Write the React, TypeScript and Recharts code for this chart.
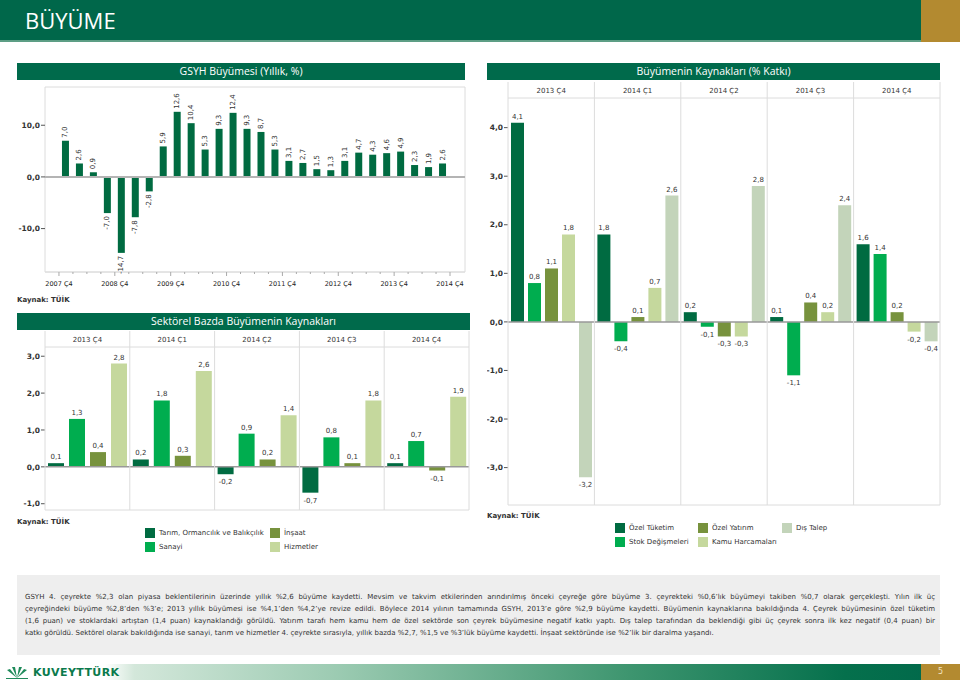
import React from "react"
import {
  Bar,
  BarChart,
  CartesianGrid,
  LabelList,
  ReferenceLine,
  XAxis,
  YAxis,
} from "recharts"

const FONT = "'DejaVu Sans', Verdana, sans-serif"
const TITLE_FONT = "'Open Sans', 'DejaVu Sans', sans-serif"

const DARK = "#006b41"
const BRIGHT = "#00ad4f"
const OLIVE = "#77923d"
const LIGHT = "#c5d89d"
const PALE = "#c3d4ba"
const BANNER = "#006a4b"
const GRID = "#dcdcdc"

// GSYH yıllık büyüme (%)
const gdpQuarters = [
  "2007 Ç4",
  "2008 Ç1", "2008 Ç2", "2008 Ç3", "2008 Ç4",
  "2009 Ç1", "2009 Ç2", "2009 Ç3", "2009 Ç4",
  "2010 Ç1", "2010 Ç2", "2010 Ç3", "2010 Ç4",
  "2011 Ç1", "2011 Ç2", "2011 Ç3", "2011 Ç4",
  "2012 Ç1", "2012 Ç2", "2012 Ç3", "2012 Ç4",
  "2013 Ç1", "2013 Ç2", "2013 Ç3", "2013 Ç4",
  "2014 Ç1", "2014 Ç2", "2014 Ç3", "2014 Ç4",
]
const gdpGrowth = [
  null,
  7.0, 2.6, 0.9, -7.0,
  -14.7, -7.8, -2.8, 5.9,
  12.6, 10.4, 5.3, 9.3,
  12.4, 9.3, 8.7, 5.3,
  3.1, 2.7, 1.5, 1.3,
  3.1, 4.7, 4.3, 4.6,
  4.9, 2.3, 1.9, 2.6,
]

// panel başlıkları
const facetQuarters = ["2013 Ç4", "2014 Ç1", "2014 Ç2", "2014 Ç3", "2014 Ç4"]

// sektörel katkılar
const tarim = [0.1, 0.2, -0.2, -0.7, 0.1]
const sanayi = [1.3, 1.8, 0.9, 0.8, 0.7]
const insaat = [0.4, 0.3, 0.2, 0.1, -0.1]
const hizmetler = [2.8, 2.6, 1.4, 1.8, 1.9]

// büyümenin kaynakları (% katkı)
const ozelTuketim = [4.1, 1.8, 0.2, 0.1, 1.6]
const stokDegisimi = [0.8, -0.4, -0.1, -1.1, 1.4]
const ozelYatirim = [1.1, 0.1, -0.3, 0.4, 0.2]
const kamuHarcamasi = [1.8, 0.7, -0.3, 0.2, -0.2]
const disTalep = [-3.2, 2.6, 2.8, 2.4, -0.4]

const gdpTicks = [-10, 0, 10]
const sectorTicks = [-1, 0, 1, 2, 3]
const sourceTicks = [-3, -2, -1, 0, 1, 2, 3, 4]

const gdpData = gdpQuarters.map((q, i) => ({ q, v: gdpGrowth[i] }))
const sectorData = facetQuarters.map((q, i) => ({
  q,
  tarim: tarim[i],
  sanayi: sanayi[i],
  insaat: insaat[i],
  hizmetler: hizmetler[i],
}))
const sourceData = facetQuarters.map((q, i) => ({
  q,
  ozelTuketim: ozelTuketim[i],
  stok: stokDegisimi[i],
  ozelYatirim: ozelYatirim[i],
  kamu: kamuHarcamasi[i],
  disTalep: disTalep[i],
}))

const footerLines = [
  "GSYH 4. çeyrekte %2,3 olan piyasa beklentilerinin üzerinde yıllık %2,6 büyüme kaydetti. Mevsim ve takvim etkilerinden arındırılmış önceki çeyreğe göre büyüme 3. çeyrekteki %0,6’lık büyümeyi takiben %0,7 olarak gerçekleşti. Yılın ilk üç",
  "çeyreğindeki büyüme %2,8’den %3’e; 2013 yıllık büyümesi ise %4,1’den %4,2’ye revize edildi. Böylece 2014 yılının tamamında GSYH, 2013’e göre %2,9 büyüme kaydetti. Büyümenin kaynaklarına bakıldığında 4. Çeyrek büyümesinin özel tüketim",
  "(1,6 puan) ve stoklardaki artıştan (1,4 puan) kaynaklandığı görüldü. Yatırım tarafı hem kamu hem de özel sektörde son çeyrek büyümesine negatif katkı yaptı. Dış talep tarafından da beklendiği gibi üç çeyrek sonra ilk kez negatif (0,4 puan) bir",
  "katkı görüldü. Sektörel olarak bakıldığında ise sanayi, tarım ve hizmetler 4. çeyrekte sırasıyla, yıllık bazda %2,7, %1,5 ve %3’lük büyüme kaydetti. İnşaat sektöründe ise %2’lik bir daralma yaşandı.",
]

const fmt = (v: number) => Number(v).toFixed(1).replace(".", ",")

const boxH = (p: any) =>
  p && p.offset ? [p.offset.top, p.offset.top + p.offset.height] : []
const boxV = (p: any) =>
  p && p.offset ? [p.offset.left, p.offset.left + p.offset.width] : []
const bottomH = (p: any) =>
  p && p.offset ? [p.offset.top + p.offset.height] : []

// chart 1 geometry
const CH1_W = 453
const CH1_YW = 28
const CH1_RIGHT = 5
const CH1_PAD = 15
const ch1Band = (CH1_W - CH1_YW - CH1_RIGHT - CH1_PAD) / gdpQuarters.length

function QuarterTick(props: any) {
  const { x, y, payload } = props
  const bx = Number(x) + ch1Band / 2
  const major = String(payload.value).endsWith("Ç4")
  return (
    <g>
      <line x1={bx} x2={bx} y1={y} y2={y + (major ? 4 : 2)} stroke="#aaa" />
      {major && (
        <text x={bx} y={y + 14} textAnchor="middle" fontSize={6.5} fill="#222" fontFamily={FONT}>
          {payload.value}
        </text>
      )}
    </g>
  )
}

function VLabel(props: any) {
  const { x, y, width, height, value } = props
  if (value === null || value === undefined) return null
  const cx = Number(x) + Number(width) / 2
  const top = Math.min(Number(y), Number(y) + Number(height))
  const bottom = Math.max(Number(y), Number(y) + Number(height))
  const pos = value >= 0
  const ay = pos ? top - 3 : bottom + 3
  return (
    <text
      x={cx}
      y={ay}
      transform={`rotate(-90 ${cx} ${ay})`}
      textAnchor={pos ? "start" : "end"}
      dominantBaseline="central"
      fontSize={7}
      fill="#333"
      fontFamily={FONT}
    >
      {fmt(value)}
    </text>
  )
}

function HLabel(props: any) {
  const { x, y, width, height, value } = props
  if (value === null || value === undefined) return null
  const cx = Number(x) + Number(width) / 2
  const top = Math.min(Number(y), Number(y) + Number(height))
  const bottom = Math.max(Number(y), Number(y) + Number(height))
  const pos = value >= 0
  return (
    <text
      x={cx}
      y={pos ? top - 4 : bottom + 10}
      textAnchor="middle"
      fontSize={7}
      fill="#333"
      fontFamily={FONT}
    >
      {fmt(value)}
    </text>
  )
}

function facetTick(bw: number, headerH: number, plotH: number, count: number) {
  return (props: any) => {
    const { x, y, payload, index } = props
    return (
      <g>
        <line x1={x - bw / 2} x2={x - bw / 2} y1={y - headerH} y2={y + plotH} stroke={GRID} />
        {index === count - 1 && (
          <line x1={x + bw / 2} x2={x + bw / 2} y1={y - headerH} y2={y + plotH} stroke={GRID} />
        )}
        <text x={x} y={y - 5} textAnchor="middle" fontSize={7} fill="#333" fontFamily={FONT}>
          {payload.value}
        </text>
      </g>
    )
  }
}

const yTick = { fontSize: 7.5, fill: "#333", fontWeight: 700, fontFamily: FONT }

function Banner({ x, y, w, text }: { x: number; y: number; w: number; text: string }) {
  return (
    <div
      style={{
        position: "absolute",
        left: x,
        top: y,
        width: w,
        height: 17,
        background: BANNER,
        color: "#fff",
        fontFamily: TITLE_FONT,
        fontSize: 10.5,
        lineHeight: "17px",
        textAlign: "center",
      }}
    >
      {text}
    </div>
  )
}

function Source({ x, y }: { x: number; y: number }) {
  return (
    <div
      style={{
        position: "absolute",
        left: x,
        top: y,
        fontSize: 7,
        fontWeight: 700,
        color: "#333",
        lineHeight: "10px",
        whiteSpace: "nowrap",
      }}
    >
      Kaynak: TÜİK
    </div>
  )
}

function Swatch({ x, y, color, label }: { x: number; y: number; color: string; label: string }) {
  return (
    <div
      style={{
        position: "absolute",
        left: x,
        top: y,
        display: "flex",
        alignItems: "center",
        fontSize: 7,
        color: "#333",
        whiteSpace: "nowrap",
        height: 10,
      }}
    >
      <span style={{ display: "inline-block", width: 10, height: 10, background: color, marginRight: 4 }} />
      {label}
    </div>
  )
}

function GdpChart() {
  return (
    <BarChart
      width={CH1_W}
      height={210}
      data={gdpData}
      margin={{ top: 5, right: CH1_RIGHT, left: 0, bottom: 0 }}
      barSize={7}
    >
      <CartesianGrid stroke={GRID} horizontalCoordinatesGenerator={boxH} verticalCoordinatesGenerator={boxV} />
      <XAxis
        dataKey="q"
        height={20}
        interval={0}
        tickLine={false}
        tickSize={0}
        tickMargin={0}
        axisLine={{ stroke: GRID }}
        padding={{ left: 0, right: CH1_PAD }}
        tick={(p: any) => <QuarterTick {...p} />}
      />
      <YAxis
        width={CH1_YW}
        domain={[-18.4, 17.4]}
        ticks={gdpTicks}
        allowDataOverflow
        tickFormatter={fmt}
        tickSize={4}
        tickMargin={1}
        axisLine={false}
        tickLine={{ stroke: "#555" }}
        tick={yTick}
      />
      <ReferenceLine y={0} stroke="#b4b4b4" strokeWidth={2} />
      <Bar dataKey="v" fill={DARK} isAnimationActive={false}>
        <LabelList dataKey="v" content={(p: any) => <VLabel {...p} />} />
      </Bar>
    </BarChart>
  )
}

// chart 2 geometry
const CH2_W = 453
const CH2_YW = 28
const CH2_RIGHT = 1
const CH2_HEAD = 16
const CH2_H = 182
const CH2_BOTTOM = 3
const ch2Band = (CH2_W - CH2_YW - CH2_RIGHT) / facetQuarters.length

function SectorChart() {
  return (
    <BarChart
      width={CH2_W}
      height={CH2_H}
      data={sectorData}
      margin={{ top: 0, right: CH2_RIGHT, left: 0, bottom: CH2_BOTTOM }}
      barSize={16}
      barGap={5}
    >
      <CartesianGrid stroke={GRID} vertical={false} horizontalCoordinatesGenerator={bottomH} />
      <XAxis
        dataKey="q"
        orientation="top"
        height={CH2_HEAD}
        interval={0}
        tickLine={false}
        tickSize={0}
        tickMargin={0}
        axisLine={{ stroke: GRID }}
        tick={facetTick(ch2Band, CH2_HEAD, CH2_H - CH2_HEAD - CH2_BOTTOM, facetQuarters.length)}
      />
      <YAxis
        width={CH2_YW}
        domain={[-1.17, 3.25]}
        ticks={sectorTicks}
        allowDataOverflow
        tickFormatter={fmt}
        tickSize={4}
        tickMargin={1}
        axisLine={false}
        tickLine={{ stroke: "#555" }}
        tick={yTick}
      />
      <ReferenceLine y={0} stroke="#999" strokeWidth={1.5} />
      <Bar dataKey="tarim" fill={DARK} isAnimationActive={false}>
        <LabelList dataKey="tarim" content={(p: any) => <HLabel {...p} />} />
      </Bar>
      <Bar dataKey="sanayi" fill={BRIGHT} isAnimationActive={false}>
        <LabelList dataKey="sanayi" content={(p: any) => <HLabel {...p} />} />
      </Bar>
      <Bar dataKey="insaat" fill={OLIVE} isAnimationActive={false}>
        <LabelList dataKey="insaat" content={(p: any) => <HLabel {...p} />} />
      </Bar>
      <Bar dataKey="hizmetler" fill={LIGHT} isAnimationActive={false}>
        <LabelList dataKey="hizmetler" content={(p: any) => <HLabel {...p} />} />
      </Bar>
    </BarChart>
  )
}

// chart 3 geometry
const CH3_W = 455
const CH3_YW = 21
const CH3_RIGHT = 2
const CH3_HEAD = 16
const CH3_H = 426
const CH3_BOTTOM = 3
const ch3Band = (CH3_W - CH3_YW - CH3_RIGHT) / facetQuarters.length

function SourceChart() {
  return (
    <BarChart
      width={CH3_W}
      height={CH3_H}
      data={sourceData}
      margin={{ top: 0, right: CH3_RIGHT, left: 0, bottom: CH3_BOTTOM }}
      barSize={13}
      barGap={4}
    >
      <CartesianGrid stroke={GRID} vertical={false} horizontalCoordinatesGenerator={bottomH} />
      <XAxis
        dataKey="q"
        orientation="top"
        height={CH3_HEAD}
        interval={0}
        tickLine={false}
        tickSize={0}
        tickMargin={0}
        axisLine={{ stroke: GRID }}
        tick={facetTick(ch3Band, CH3_HEAD, CH3_H - CH3_HEAD - CH3_BOTTOM, facetQuarters.length)}
      />
      <YAxis
        width={CH3_YW}
        domain={[-3.77, 4.61]}
        ticks={sourceTicks}
        allowDataOverflow
        tickFormatter={fmt}
        tickSize={4}
        tickMargin={1}
        axisLine={false}
        tickLine={{ stroke: "#555" }}
        tick={yTick}
      />
      <ReferenceLine y={0} stroke="#999" strokeWidth={1.5} />
      <Bar dataKey="ozelTuketim" fill={DARK} isAnimationActive={false}>
        <LabelList dataKey="ozelTuketim" content={(p: any) => <HLabel {...p} />} />
      </Bar>
      <Bar dataKey="stok" fill={BRIGHT} isAnimationActive={false}>
        <LabelList dataKey="stok" content={(p: any) => <HLabel {...p} />} />
      </Bar>
      <Bar dataKey="ozelYatirim" fill={OLIVE} isAnimationActive={false}>
        <LabelList dataKey="ozelYatirim" content={(p: any) => <HLabel {...p} />} />
      </Bar>
      <Bar dataKey="kamu" fill={LIGHT} isAnimationActive={false}>
        <LabelList dataKey="kamu" content={(p: any) => <HLabel {...p} />} />
      </Bar>
      <Bar dataKey="disTalep" fill={PALE} isAnimationActive={false}>
        <LabelList dataKey="disTalep" content={(p: any) => <HLabel {...p} />} />
      </Bar>
    </BarChart>
  )
}

function Logo() {
  return (
    <div style={{ position: "absolute", left: 4, top: 666, display: "flex", alignItems: "center" }}>
      <svg width={26} height={13}>
        <path d="M13 12 L3 4 L6 3 Z" fill="#1f8a5a" />
        <path d="M13 12 L8 1 L11 1 Z" fill="#1f8a5a" />
        <path d="M13 12 L15 1 L18 1 Z" fill="#1f8a5a" />
        <path d="M13 12 L20 3 L23 4 Z" fill="#1f8a5a" />
        <path d="M2 12 L24 12 L24 13 L2 13 Z" fill="#1f8a5a" />
      </svg>
      <span
        style={{
          marginLeft: 3,
          fontFamily: "'DejaVu Sans', sans-serif",
          fontWeight: 700,
          fontSize: 11,
          letterSpacing: 0.4,
          color: "#0b7a4c",
          lineHeight: "13px",
        }}
      >
        KUVEYTTÜRK
      </span>
    </div>
  )
}

export default function App() {
  return (
    <div
      style={{
        position: "absolute",
        left: 0,
        top: 0,
        width: 960,
        height: 680,
        background: "#fff",
        overflow: "hidden",
        fontFamily: FONT,
      }}
    >
      {/* page header */}
      <div style={{ position: "absolute", left: 0, top: 0, width: 960, height: 40, background: "#00674a" }} />
      <div style={{ position: "absolute", left: 0, top: 40, width: 960, height: 2, background: "#5d9e85" }} />
      <div style={{ position: "absolute", left: 921, top: 0, width: 39, height: 42, background: "#b38a30" }} />
      <div
        style={{
          position: "absolute",
          left: 25,
          top: 6,
          color: "#fff",
          fontFamily: TITLE_FONT,
          fontSize: 22,
          lineHeight: "28px",
        }}
      >
        BÜYÜME
      </div>

      {/* GSYH büyümesi */}
      <Banner x={17} y={63} w={448} text="GSYH Büyümesi (Yıllık, %)" />
      <div style={{ position: "absolute", left: 17, top: 82 }}>
        <GdpChart />
      </div>
      <Source x={17} y={295} />

      {/* sektörel */}
      <Banner x={17} y={313} w={453} text="Sektörel Bazda Büyümenin Kaynakları" />
      <div style={{ position: "absolute", left: 17, top: 331 }}>
        <SectorChart />
      </div>
      <Source x={17} y={517} />
      <Swatch x={145} y={528} color={DARK} label="Tarım, Ormancılık ve Balıkçılık" />
      <Swatch x={270} y={528} color={OLIVE} label="İnşaat" />
      <Swatch x={145} y={542} color={BRIGHT} label="Sanayi" />
      <Swatch x={270} y={542} color={LIGHT} label="Hizmetler" />

      {/* büyümenin kaynakları */}
      <Banner x={487} y={63} w={453} text="Büyümenin Kaynakları (% Katkı)" />
      <div style={{ position: "absolute", left: 487, top: 82 }}>
        <SourceChart />
      </div>
      <Source x={487} y={511} />
      <Swatch x={615} y={523} color={DARK} label="Özel Tüketim" />
      <Swatch x={698} y={523} color={OLIVE} label="Özel Yatırım" />
      <Swatch x={782} y={523} color={PALE} label="Dış Talep" />
      <Swatch x={615} y={537} color={BRIGHT} label="Stok Değişmeleri" />
      <Swatch x={698} y={537} color={LIGHT} label="Kamu Harcamaları" />

      {/* yorum kutusu */}
      <div
        style={{
          position: "absolute",
          left: 17,
          top: 575,
          width: 923,
          height: 80,
          background: "#eeeeee",
        }}
      />
      <div style={{ position: "absolute", left: 25, top: 591, width: 910 }}>
        {footerLines.map((line, i) => (
          <div
            key={i}
            style={{
              fontSize: 7,
              lineHeight: "12px",
              color: "#333",
              whiteSpace: "nowrap",
              textAlign: i < footerLines.length - 1 ? "justify" : "left",
              textAlignLast: i < footerLines.length - 1 ? "justify" : "left",
            }}
          >
            {line}
          </div>
        ))}
      </div>

      {/* alt şerit */}
      <div
        style={{
          position: "absolute",
          left: 0,
          top: 664,
          width: 960,
          height: 16,
          background:
            "linear-gradient(to right, #ffffff 0%, #ffffff 11%, #d3e7da 14%, #9ccbb2 35%, #3f9670 65%, #05704c 88%, #00674a 100%)",
        }}
      />
      <div
        style={{
          position: "absolute",
          left: 921,
          top: 664,
          width: 39,
          height: 16,
          background: "#b38a30",
          color: "#f3e4c0",
          fontSize: 8,
          lineHeight: "16px",
          textAlign: "center",
        }}
      >
        5
      </div>
      <Logo />
    </div>
  )
}
